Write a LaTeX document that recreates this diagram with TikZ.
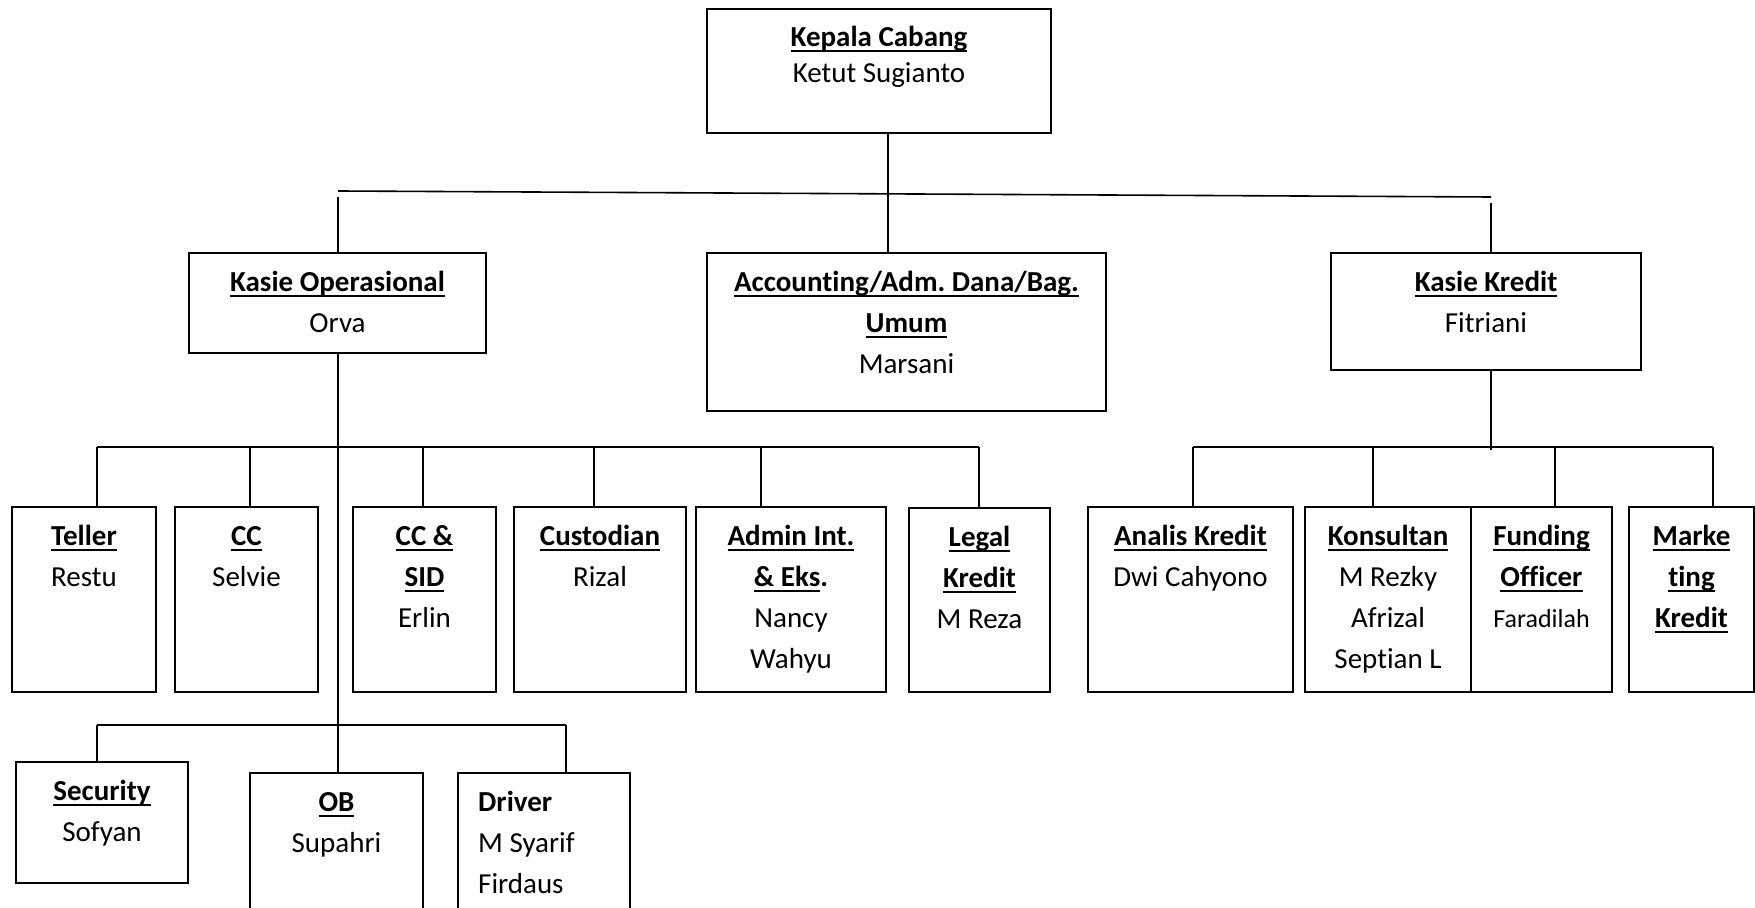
\documentclass[tikz,border=0pt]{standalone}
\usepackage{fontspec}
\setmainfont{Carlito}[Ligatures={NoCommon}]
\frenchspacing
\newsavebox\ulbox
\newcommand\myul[1]{\sbox\ulbox{#1}\rlap{\rule[-2.8pt]{\wd\ulbox}{1.1pt}}\usebox\ulbox}
\newcommand\mkbox[5]{\node[orgbox, minimum width={(#4-#2)*0.5pt}, minimum height={(#5-#3)*0.5pt}] (#1) at ({(#2+#4)/2},{(#3+#5)/2}) {};}
\tikzset{
  orgbox/.style={draw, line width=1.2pt, inner sep=0pt, fill=white},
  conn/.style={line width=0.8pt},
  txt/.style={anchor=north, inner sep=0pt, align=center, font=\fontsize{14.5}{20.5}\selectfont},
  txtl/.style={anchor=north west, inner sep=0pt, align=left, font=\fontsize{14.5}{20.5}\selectfont},
  toptxt/.style={anchor=north, inner sep=0pt, align=center, font=\fontsize{14.5}{18}\selectfont},
}
\begin{document}
\begin{tikzpicture}[x=0.5pt, y=-0.5pt]
\fill[white] (0,0) rectangle (1755,908);
\useasboundingbox (0,0) rectangle (1755,908);
\clip (0,0) rectangle (1755,908);
% connector coordinates
\coordinate (kx) at (888,0);
\coordinate (topbusl) at (338,191);
\coordinate (topbusr) at (1491,197);
\coordinate (opdrop) at (338,197);
\coordinate (krdrop) at (1491,203);
\coordinate (opx) at (338,0);
\coordinate (lbusl) at (97,447);
\coordinate (lbusr) at (979,447);
\coordinate (rbusl) at (1193,447);
\coordinate (rbusr) at (1713,447);
\coordinate (krend) at (1491,450);
\coordinate (sbusl) at (97,725);
\coordinate (sbusr) at (566,725);
% boxes
\mkbox{kepala}{707}{9}{1051}{133}
\mkbox{kasieop}{189}{253}{486}{353}
\mkbox{acc}{707}{253}{1106}{411}
\mkbox{kasiekr}{1331}{253}{1641}{370}
\mkbox{teller}{12}{507}{156}{692}
\mkbox{cc}{175}{507}{318}{692}
\mkbox{ccsid}{353}{507}{496}{692}
\mkbox{custodian}{514}{507}{686}{692}
\mkbox{admin}{696}{507}{886}{692}
\mkbox{legal}{909}{508}{1050}{692}
\mkbox{analis}{1088}{507}{1293}{692}
\mkbox{konsultan}{1305}{507}{1471}{692}
\mkbox{funding}{1471}{507}{1612}{692}
\mkbox{marketing}{1629}{507}{1754}{692}
\mkbox{security}{16}{762}{188}{883}
\mkbox{ob}{250}{773}{423}{940}
\mkbox{driver}{458}{773}{630}{940}
% connectors
\draw[conn] (kepala.south -| kx) -- (acc.north -| kx);
\draw[conn] (topbusl) -- (topbusr);
\draw[conn] (opdrop) -- (opdrop |- kasieop.north);
\draw[conn] (krdrop) -- (krdrop |- kasiekr.north);
\draw[conn] (kasieop.south -| opx) -- (ob.north -| opx);
\draw[conn] (lbusl) -- (lbusr);
\foreach \x/\n in {97/teller,250/cc,423/ccsid,594/custodian,761/admin,979/legal}{
  \path (\x,447) coordinate (tmp);
  \draw[conn] (tmp) -- (tmp |- \n.north);
}
\draw[conn] (kasiekr.south -| krend) -- (krend);
\draw[conn] (rbusl) -- (rbusr);
\foreach \x/\n in {1193/analis,1373/konsultan,1555/funding,1713/marketing}{
  \path (\x,447) coordinate (tmp);
  \draw[conn] (tmp) -- (tmp |- \n.north);
}
\draw[conn] (sbusl) -- (sbusr);
\foreach \x/\n in {97/security,566/driver}{
  \path (\x,725) coordinate (tmp);
  \draw[conn] (tmp) -- (tmp |- \n.north);
}
% texts
\node[toptxt] at ([yshift=-6.4pt]kepala.north) {\strut\textbf{\myul{Kepala Cabang}}\\Ketut Sugianto};
\node[txt] at ([yshift=-5.15pt]kasieop.north) {\strut\textbf{\myul{Kasie Operasional}}\\Orva};
\node[txt] at ([yshift=-5.15pt]acc.north) {\strut\textbf{\myul{Accounting/Adm. Dana/Bag.}}\\\textbf{\myul{Umum}}\\Marsani};
\node[txt] at ([yshift=-5.15pt]kasiekr.north) {\strut\textbf{\myul{Kasie Kredit}}\\Fitriani};
\node[txt] at ([yshift=-5.15pt]teller.north) {\strut\textbf{\myul{Teller}}\\Restu};
\node[txt] at ([yshift=-5.15pt]cc.north) {\strut\textbf{\myul{CC}}\\Selvie};
\node[txt] at ([yshift=-5.15pt]ccsid.north) {\strut\textbf{\myul{CC \&}}\\\textbf{\myul{SID}}\\Erlin};
\node[txt] at ([yshift=-5.15pt]custodian.north) {\strut\textbf{\myul{Custodian}}\\Rizal};
\node[txt] at ([yshift=-5.15pt]admin.north) {\strut\textbf{\myul{Admin Int.}}\\\textbf{\myul{\& Eks}.}\\Nancy\\Wahyu};
\node[txt] at ([yshift=-5.15pt]legal.north) {\strut\textbf{\myul{Legal}}\\\textbf{\myul{Kredit}}\\M Reza};
\node[txt] at ([yshift=-5.15pt]analis.north) {\strut\textbf{\myul{Analis Kredit}}\\Dwi Cahyono};
\node[txt] at ([yshift=-5.15pt]konsultan.north) {\strut\textbf{\myul{Konsultan}}\\M Rezky\\Afrizal\\Septian L};
\node[txt] at ([yshift=-5.15pt]funding.north) {\strut\textbf{\myul{Funding}}\\\textbf{\myul{Officer}}\\{\fontsize{13}{20.5}\selectfont Faradilah}};
\node[txt] at ([yshift=-5.15pt]marketing.north) {\strut\textbf{\myul{Marke}}\\\textbf{\myul{ting}}\\\textbf{\myul{Kredit}}};
\node[txt] at ([yshift=-5.15pt]security.north) {\strut\textbf{\myul{Security}}\\Sofyan};
\node[txt] at ([yshift=-5.15pt]ob.north) {\strut\textbf{\myul{OB}}\\Supahri};
\node[txtl] at ([xshift=10.5pt,yshift=-5.15pt]driver.north west) {\strut\textbf{Driver}\\M Syarif\\Firdaus};
\end{tikzpicture}
\end{document}
